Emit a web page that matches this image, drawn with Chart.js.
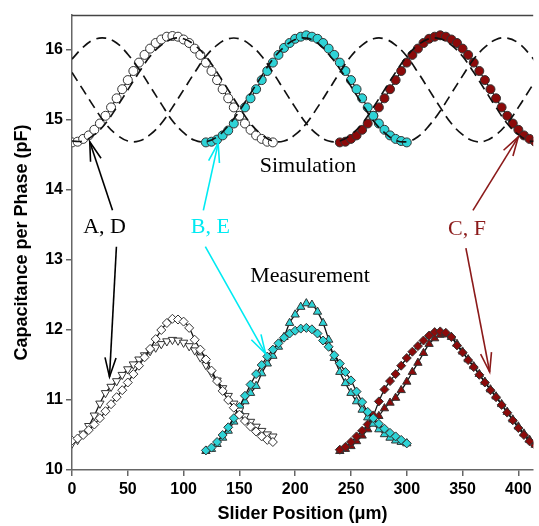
<!DOCTYPE html>
<html>
<head>
<meta charset="utf-8">
<script src="https://cdn.jsdelivr.net/npm/chart.js@4.4.1/dist/chart.umd.min.js"></script>
<style>
  html, body { margin: 0; padding: 0; background: #ffffff; overflow: hidden; }
  #c { display: block; }
</style>
</head>
<body>
<canvas id="c" width="539" height="526"></canvas>
<script>
// ---------- data ----------
const dashX = [0,10,20,30,40,50,60,70,80,90,100,110,120,130,140,150,160,170,180,190,200,210,220,230,240,250,260,270,280,290,300,310,320,330,340,350,360,370,380,390,400,410,420];
const simDashA = [14.70,14.70,14.79,14.95,15.18,15.43,15.68,15.91,16.07,16.16,16.16,16.07,15.91,15.68,15.43,15.18,14.95,14.79,
                  14.70,14.70,14.79,14.95,15.18,15.43,15.68,15.91,16.07,16.16,16.16,16.07,15.91,15.68,15.43,15.18,14.95,14.79,
                  14.70,14.70,14.79,14.95,15.18,15.43,15.68];
const simDashB = [15.87,16.04,16.15,16.17,16.10,15.94,15.73,15.48,15.23,14.99,14.82,14.71,14.69,14.76,14.92,15.13,15.38,15.63,
                  15.87,16.04,16.15,16.17,16.10,15.94,15.73,15.48,15.23,14.99,14.82,14.71,14.69,14.76,14.92,15.13,15.38,15.63,
                  15.87,16.04,16.15,16.17,16.10,15.94,15.73];
const simDashC = [15.68,15.43,15.18,14.95,14.79,14.70,14.70,14.79,14.95,15.18,15.43,15.68,15.91,16.07,16.16,16.16,16.07,15.91,
                  15.68,15.43,15.18,14.95,14.79,14.70,14.70,14.79,14.95,15.18,15.43,15.68,15.91,16.07,16.16,16.16,16.07,15.91,
                  15.68,15.43,15.18,14.95,14.79,14.70,14.70];

const xA = [0,5,10,15,20,25,30,35,40,45,50,55,60,65,70,75,80,85,90,95,100,105,110,115,120,125,130,135,140,145,150,155,160,165,170,175,180];
const xB = [120,125,130,135,140,145,150,155,160,165,170,175,180,185,190,195,200,205,210,215,220,225,230,235,240,245,250,255,260,265,270,275,280,285,290,295,300];
const xC = [240,245,250,255,260,265,270,275,280,285,290,295,300,305,310,315,320,325,330,335,340,345,350,355,360,365,370,375,380,385,390,395,400,405,410,415,420];

const simA = [14.68,14.69,14.73,14.78,14.86,14.95,15.06,15.18,15.31,15.44,15.57,15.70,15.82,15.93,16.02,16.10,16.15,16.19,16.20,
              16.19,16.15,16.10,16.02,15.93,15.82,15.70,15.57,15.44,15.31,15.18,15.06,14.95,14.86,14.78,14.73,14.69,14.68];
const simB = [14.68,14.69,14.72,14.78,14.85,14.95,15.06,15.18,15.31,15.44,15.57,15.70,15.82,15.93,16.03,16.10,16.16,16.19,16.21,
              16.19,16.16,16.10,16.02,15.93,15.82,15.70,15.57,15.44,15.31,15.18,15.06,14.95,14.86,14.78,14.73,14.70,14.68];
const simC = [14.68,14.69,14.73,14.78,14.86,14.95,15.06,15.18,15.31,15.44,15.57,15.70,15.82,15.93,16.02,16.10,16.16,16.19,16.21,
              16.19,16.15,16.10,16.02,15.93,15.82,15.70,15.57,15.44,15.31,15.18,15.06,14.95,14.86,14.78,14.73,14.69,14.68];

const measA_dia = [10.42,10.45,10.50,10.57,10.65,10.74,10.84,10.94,11.04,11.14,11.25,11.37,11.49,11.61,11.73,11.87,12.00,12.10,12.16,
                   12.15,12.12,12.03,11.86,11.72,11.58,11.42,11.27,11.13,11.00,10.89,10.79,10.70,10.62,10.55,10.48,10.43,10.40];
const measA_tri = [10.38,10.43,10.52,10.63,10.78,10.95,11.10,11.19,11.27,11.36,11.44,11.51,11.58,11.64,11.70,11.75,11.80,11.84,11.86,
                   11.85,11.82,11.77,11.71,11.61,11.50,11.39,11.28,11.17,11.06,10.95,10.85,10.77,10.69,10.62,10.56,10.51,10.48];
const measB_dia = [10.28,10.32,10.40,10.50,10.61,10.74,10.90,11.06,11.22,11.37,11.50,11.62,11.72,11.81,11.89,11.95,11.99,12.02,12.03,
                   12.01,11.95,11.85,11.76,11.64,11.52,11.40,11.28,11.12,10.97,10.83,10.74,10.66,10.59,10.53,10.48,10.43,10.38];
const measB_tri = [10.27,10.30,10.37,10.46,10.56,10.69,10.84,10.98,11.10,11.20,11.38,11.52,11.63,11.76,11.90,12.10,12.22,12.33,12.38,
                   12.36,12.26,12.10,11.86,11.60,11.40,11.24,11.10,10.98,10.86,10.75,10.66,10.58,10.51,10.46,10.42,10.40,10.38];
const measC_dia = [10.29,10.33,10.40,10.48,10.56,10.65,10.78,10.98,11.15,11.27,11.37,11.49,11.60,11.69,11.77,11.85,11.92,11.97,11.98,
                   11.96,11.90,11.78,11.68,11.57,11.47,11.36,11.25,11.14,11.04,10.93,10.82,10.71,10.60,10.50,10.41,10.35,10.30];
const measC_tri = [10.27,10.30,10.34,10.41,10.49,10.58,10.67,10.77,10.88,10.96,11.03,11.14,11.26,11.40,11.53,11.67,11.80,11.88,11.93,
                   11.94,11.90,11.80,11.69,11.58,11.48,11.37,11.26,11.15,11.05,10.94,10.83,10.72,10.62,10.52,10.43,10.36,10.31];

const yTicks = [10,11,12,13,14,15,16];
const xTicks = [0,50,100,150,200,250,300,350,400];

// annotation labels (anchored in data units)
const labels = [
  {text: 'Simulation',  x: 211.5, y: 14.257, color: '#000000'},
  {text: 'Measurement', x: 213.3, y: 12.686, color: '#000000'},
  {text: 'A, D', x: 29.2,  y: 13.386, color: '#000000'},
  {text: 'B, E', x: 123.9, y: 13.386, color: '#00eaf2'},
  {text: 'C, F', x: 354.0, y: 13.357, color: '#8b1a1a'}
];
const arrows = [
  {x0: 36.3,  y0: 13.71, x1: 15.9,  y1: 14.69, color: '#000000'},
  {x0: 39.8,  y0: 13.19, x1: 33.6,  y1: 11.33, color: '#000000'},
  {x0: 117.7, y0: 13.71, x1: 131.0, y1: 14.67, color: '#00eaf2'},
  {x0: 119.5, y0: 13.19, x1: 173.5, y1: 11.66, color: '#00eaf2'},
  {x0: 359.3, y0: 13.71, x1: 400.0, y1: 14.76, color: '#8b1a1a'},
  {x0: 353.0, y0: 13.17, x1: 374.3, y1: 11.40, color: '#8b1a1a'}
];

// ---------- build ----------
const pts = (xs, ys) => xs.map((x, i) => ({x: x, y: ys[i]}));
const CYAN = '#2ed3d6', RED = '#8b0a0a';

function dashed(ys) {
  return { data: pts(dashX, ys), borderColor: '#111', borderWidth: 1.7, borderDash: [10, 6],
           pointRadius: 0, tension: 0.4, fill: false };
}
function markers(xs, ys, style, fillC, r, rot) {
  return { data: pts(xs, ys), borderColor: '#111', borderWidth: 1.3, tension: 0.4,
           pointStyle: style, pointRadius: r, pointRotation: rot || 0,
           pointBackgroundColor: fillC, pointBorderColor: '#333', pointBorderWidth: 1, fill: false };
}

const datasets = [
  dashed(simDashA), dashed(simDashB), dashed(simDashC),
  markers(xA, simA, 'circle', '#ffffff', 4.5),
  markers(xB, simB, 'circle', CYAN, 4.5),
  markers(xC, simC, 'circle', RED, 4.5),
  markers(xA, measA_dia, 'rectRot', '#ffffff', 4.5),
  markers(xA, measA_tri, 'triangle', '#ffffff', 4.8, 180),
  markers(xB, measB_dia, 'rectRot', CYAN, 4.5),
  markers(xB, measB_tri, 'triangle', CYAN, 4.8),
  markers(xC, measC_dia, 'rectRot', RED, 4.5),
  markers(xC, measC_tri, 'triangle', RED, 4.8)
];

const annot = {
  id: 'annot',
  afterDatasetsDraw(chart) {
    const ctx = chart.ctx, xs = chart.scales.x, ys = chart.scales.y, a = chart.chartArea;
    ctx.save();
    // top frame line
    ctx.strokeStyle = '#444'; ctx.lineWidth = 1.5;
    ctx.beginPath(); ctx.moveTo(a.left, a.top + 0.5); ctx.lineTo(a.right, a.top + 0.5); ctx.stroke();
    // arrows
    arrows.forEach(ar => {
      const x0 = xs.getPixelForValue(ar.x0), y0 = ys.getPixelForValue(ar.y0);
      const x1 = xs.getPixelForValue(ar.x1), y1 = ys.getPixelForValue(ar.y1);
      ctx.strokeStyle = ar.color; ctx.lineWidth = 1.6;
      ctx.beginPath(); ctx.moveTo(x0, y0); ctx.lineTo(x1, y1); ctx.stroke();
      const ang = Math.atan2(y1 - y0, x1 - x0), L = 20, h = 0.28;
      ctx.beginPath();
      ctx.moveTo(x1 - L * Math.cos(ang - h), y1 - L * Math.sin(ang - h));
      ctx.lineTo(x1, y1);
      ctx.lineTo(x1 - L * Math.cos(ang + h), y1 - L * Math.sin(ang + h));
      ctx.stroke();
    });
    // labels
    ctx.font = '22px "Liberation Serif", "Times New Roman", serif';
    ctx.textAlign = 'center'; ctx.textBaseline = 'alphabetic';
    labels.forEach(l => {
      ctx.fillStyle = l.color;
      ctx.fillText(l.text, xs.getPixelForValue(l.x), ys.getPixelForValue(l.y));
    });
    ctx.restore();
  }
};

new Chart(document.getElementById('c'), {
  type: 'line',
  data: { datasets },
  options: {
    responsive: false, animation: false, devicePixelRatio: 1,
    layout: { padding: { top: 15, right: 0, left: 0, bottom: 0 } },
    plugins: { legend: { display: false }, tooltip: { enabled: false } },
    scales: {
      x: {
        type: 'linear', min: 0, max: 413.3,
        afterFit(s) { s.height = 56; },
        afterBuildTicks(s) { s.ticks = xTicks.map(v => ({value: v})); },
        ticks: { stepSize: 50, includeBounds: false, color: '#000', padding: 4,
                 font: { family: '"Liberation Sans", Arial, sans-serif', size: 16, weight: 'bold' } },
        grid: { display: true, drawOnChartArea: false, drawTicks: true, tickLength: 6, color: '#666', lineWidth: 1.5 },
        border: { display: true, color: '#666', width: 1.5 },
        title: { display: true, text: 'Slider Position (\u03BCm)', color: '#000', padding: { top: 0, bottom: 1 },
                 font: { family: '"Liberation Sans", Arial, sans-serif', size: 18, weight: 'bold' } }
      },
      y: {
        type: 'linear', min: 10, max: 16.5,
        afterFit(s) { s.width = 72; },
        afterBuildTicks(s) { s.ticks = yTicks.map(v => ({value: v})); },
        ticks: { stepSize: 1, includeBounds: false, color: '#000', padding: 3,
                 font: { family: '"Liberation Sans", Arial, sans-serif', size: 16, weight: 'bold' } },
        grid: { display: true, drawOnChartArea: false, drawTicks: true, tickLength: 6, color: '#666', lineWidth: 1.5 },
        border: { display: true, color: '#666', width: 1.5 },
        title: { display: true, text: 'Capacitance per Phase (pF)', color: '#000', padding: { top: 11, bottom: 0 },
                 font: { family: '"Liberation Sans", Arial, sans-serif', size: 18, weight: 'bold' } }
      }
    }
  },
  plugins: [annot]
});
</script>
</body>
</html>
